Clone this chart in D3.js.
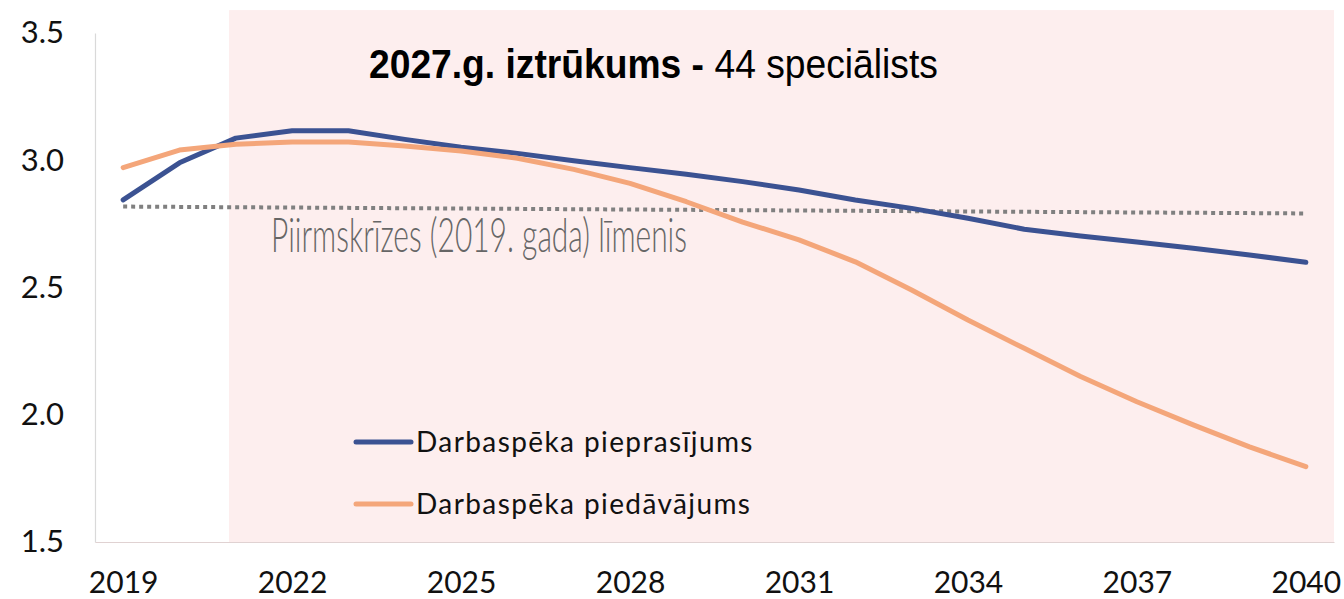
<!DOCTYPE html>
<html>
<head>
<meta charset="utf-8">
<script src="https://cdn.jsdelivr.net/npm/d3@7/dist/d3.min.js"></script>
<style>
  html, body { margin: 0; padding: 0; background: #ffffff; }
  svg { display: block; }
</style>
</head>
<body>
<svg id="chart" width="1344" height="599"></svg>
<script>
// Years on the horizontal axis
const years = d3.range(2019, 2041);
// Labour demand (Darbaspēka pieprasījums)
const demand = [2.844, 2.990, 3.087, 3.116, 3.116, 3.082, 3.051, 3.027, 2.998, 2.971, 2.945,
                2.916, 2.883, 2.844, 2.811, 2.772, 2.729, 2.702, 2.679, 2.654, 2.628, 2.599];
// Labour supply (Darbaspēka piedāvājums)
const supply = [2.971, 3.040, 3.063, 3.072, 3.072, 3.056, 3.036, 3.008, 2.964, 2.909, 2.837,
                2.757, 2.687, 2.601, 2.490, 2.372, 2.261, 2.150, 2.051, 1.960, 1.874, 1.796];
// Pre-crisis (2019) reference level
const levelYears = [2019, 2040];
const levelValues = [2.818, 2.791];
// Tick labels
const xTicks = [2019, 2022, 2025, 2028, 2031, 2034, 2037, 2040];
const yTicks = [1.5, 2.0, 2.5, 3.0, 3.5];
// Highlighted forecast period
const shadeFrom = 2020.88, shadeTo = 2040.5, shadeTop = 3.59;

const seriesNames = ["Darbaspēka pieprasījums", "Darbaspēka piedāvājums"];
const seriesColors = ["#3b5292", "#f4a67a"];

const svg = d3.select("#chart");

const x = d3.scaleLinear().domain([2018.5, 2040.5]).range([95, 1334]);
const y = d3.scaleLinear().domain([1.5, 3.5]).range([542, 33]);

// shaded period
svg.append("rect")
  .attr("x", x(shadeFrom))
  .attr("y", y(shadeTop))
  .attr("width", x(shadeTo) - x(shadeFrom))
  .attr("height", y(1.5) - y(shadeTop))
  .attr("fill", "#fdeeee");

// axes
const fontTicks = "Lato, 'Open Sans', sans-serif";

const yAxis = svg.append("g")
  .attr("transform", `translate(${x(2018.5)},0)`)
  .call(d3.axisLeft(y).tickValues(yTicks).tickSize(0).tickPadding(31)
        .tickFormat(d3.format(".1f")));
yAxis.select(".domain").attr("stroke", "#d9d9d9").attr("stroke-width", 1.2);
yAxis.selectAll("text").attr("font-family", fontTicks).attr("font-size", 31).attr("fill", "#111");

const xAxis = svg.append("g")
  .attr("transform", `translate(0,${y(1.5)})`)
  .call(d3.axisBottom(x).tickValues(xTicks).tickSize(0).tickPadding(30)
        .tickFormat(d3.format("d")));
xAxis.select(".domain").attr("stroke", "#e0d2d2").attr("stroke-width", 1.2);
xAxis.selectAll("text").attr("font-family", fontTicks).attr("font-size", 30).attr("fill", "#111");

// reference level (dotted)
const levelLine = d3.line().x((d, i) => x(levelYears[i])).y(d => y(d));
svg.append("path")
  .attr("d", levelLine(levelValues))
  .attr("fill", "none")
  .attr("stroke", "#808080")
  .attr("stroke-width", 4)
  .attr("stroke-dasharray", "4,4");

svg.append("text")
  .attr("x", 271)
  .attr("y", 252)
  .attr("font-family", "Lato, 'Open Sans', sans-serif")
  .attr("font-weight", 300)
  .attr("font-size", 47)
  .attr("fill", "#666666")
  .attr("textLength", 416)
  .attr("lengthAdjust", "spacingAndGlyphs")
  .text("Piirmskrīzes (2019. gada) līmenis");

// series lines
const line = d3.line().x((d, i) => x(years[i])).y(d => y(d));
[demand, supply].forEach((vals, k) => {
  svg.append("path")
    .attr("d", line(vals))
    .attr("fill", "none")
    .attr("stroke", seriesColors[k])
    .attr("stroke-width", 5)
    .attr("stroke-linecap", "round")
    .attr("stroke-linejoin", "round");
});

// title: bold lead-in plus regular count, set in a condensed sans
const titleFont = "'Liberation Sans Narrow', 'Arial Narrow', 'Liberation Sans', Arial, sans-serif";
const titleG = svg.append("g");
const tBold = titleG.append("text")
  .attr("x", 0).attr("y", 0)
  .attr("font-family", titleFont)
  .attr("font-size", 41)
  .attr("font-weight", "bold")
  .attr("fill", "#000")
  .text("2027.g. iztrūkums -");
const boldW = tBold.node().getComputedTextLength();
const tReg = titleG.append("text")
  .attr("x", boldW).attr("y", 0)
  .attr("font-family", titleFont)
  .attr("font-size", 41)
  .attr("fill", "#000")
  .text("\u00A044 speciālists");
const fullW = boldW + tReg.node().getComputedTextLength();
const sx = Math.min(1, 569 / fullW);
titleG.attr("transform", `translate(369,78) scale(${sx},1)`);

// legend
const legendY = [442, 504];
seriesNames.forEach((name, k) => {
  const g = svg.append("g").attr("transform", `translate(0,${legendY[k]})`);
  g.append("line")
    .attr("x1", 356).attr("x2", 411)
    .attr("y1", 0).attr("y2", 0)
    .attr("stroke", seriesColors[k])
    .attr("stroke-width", 5)
    .attr("stroke-linecap", "round");
  g.append("text")
    .attr("x", 416)
    .attr("y", 10)
    .attr("font-family", fontTicks)
    .attr("font-size", 28)
    .attr("letter-spacing", 1.4)
    .attr("fill", "#111")
    .text(name);
});
</script>
</body>
</html>
